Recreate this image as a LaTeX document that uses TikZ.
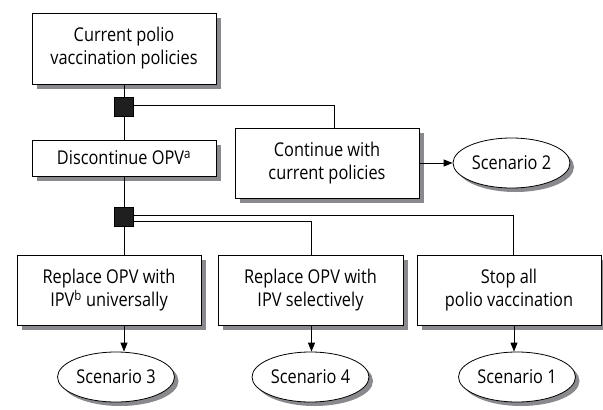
\documentclass[tikz,border=0pt]{standalone}
\usepackage{fontspec}
\setmainfont{Open Sans}[FakeStretch=0.86]
\usetikzlibrary{shapes.geometric,arrows.meta,backgrounds}
\definecolor{shadowgray}{RGB}{138,138,142}

\begin{document}
\begin{tikzpicture}
 [x=1pt, y=1pt, >={Triangle[length=9pt,width=7pt]},
  box node/.style={rectangle, draw, fill=white, line width=0.8pt, minimum width=184pt, minimum height=70pt, inner sep=2pt, align=center, font=\fontsize{19}{23}\selectfont},
  scenario node/.style={ellipse, draw, fill=white, line width=0.8pt, minimum width=117pt, minimum height=50pt, inner sep=0pt, font=\fontsize{19}{23}\selectfont},
  decision node/.style={rectangle, draw, fill=black!88, minimum size=19pt, inner sep=0pt},
  shadow fill/.style={fill=shadowgray, draw=none},
  link/.style={line width=1pt}]

\useasboundingbox (0,0) rectangle (603,-410);

\node[box node, minimum height=71pt] (current) at (124,-48.5) {Current polio\\vaccination policies};
\node[decision node] (dec1) [node distance=58.5pt, below of=current] {};
\node[box node, minimum height=36pt] (discont) [node distance=51pt, below of=dec1] {Discontinue OPV\textsuperscript{a}};
\node[decision node] (dec2) [node distance=59pt, below of=discont] {};

\node[box node] (continue) [node distance=203pt, right of=discont, yshift=-5pt] {Continue with\\current policies};
\node[scenario node] (scen2) [node distance=184.5pt, right of=continue] {Scenario 2};

\node[box node] (replace1) [node distance=73pt, below of=dec2, xshift=-15pt] {Replace OPV with\\IPV\textsuperscript{b} universally};
\node[box node, minimum width=185pt] (replace2) [node distance=201.5pt, right of=replace1] {Replace OPV with\\IPV selectively};
\node[box node] (stop) [node distance=198.5pt, right of=replace2] {Stop all\\polio vaccination};

\node[scenario node] (scen3) [node distance=87pt, below of=replace1, xshift=7pt] {Scenario 3};
\node[scenario node] (scen4) [node distance=87pt, below of=replace2] {Scenario 4};
\node[scenario node] (scen1) [node distance=87pt, below of=stop, xshift=8pt] {Scenario 1};

% gray shadows behind boxes and ellipses
\begin{scope}[on background layer]
\foreach \n in {current,discont,continue,replace1,replace2,stop}
  \fill[shadow fill] ([shift={(5pt,-5pt)}]\n.south west) rectangle ([shift={(5pt,-5pt)}]\n.north east);
\foreach \n in {scen1,scen2,scen3,scen4}
  \fill[shadow fill] ([shift={(4pt,-4pt)}]\n.center) ellipse [x radius=58.5pt, y radius=25pt];
\end{scope}

% main spine
\draw[link] (current) -- (dec1) -- (discont) -- (dec2) -- (dec2 |- replace1.north);
\draw[link] ([yshift=2pt]dec1.east) -| ([xshift=7pt]continue.north);
\draw[link] ([yshift=2pt]dec2.east) -| ([xshift=4pt]stop.north);
\draw[link] ([yshift=-4pt]dec2.east) -| ([xshift=1pt]replace2.north);

\path
  (continue) edge [->, link] (scen2)
  (replace1.south -| dec2) edge [->, link] (dec2 |- scen3.north)
  ([xshift=1pt]replace2.south) edge [->, link] ([xshift=1pt]replace2.south |- scen4.north)
  ([xshift=5pt]stop.south) edge [->, link] ([xshift=5pt]stop.south |- scen1.north);

\end{tikzpicture}
\end{document}
